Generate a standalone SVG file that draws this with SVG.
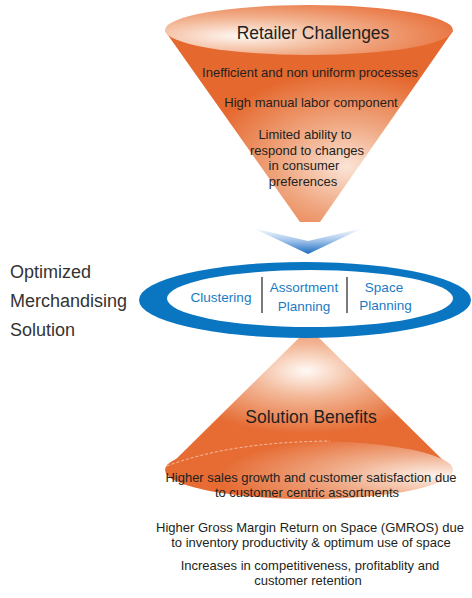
<svg xmlns="http://www.w3.org/2000/svg" width="472" height="598" viewBox="0 0 472 598">
  <defs>
    <radialGradient id="topBody" cx="0.63" cy="0.71" r="0.5" fx="0.63" fy="0.71">
      <stop offset="0" stop-color="#fbe4d6"/>
      <stop offset="0.45" stop-color="#f0a882"/>
      <stop offset="1" stop-color="#e5692f"/>
    </radialGradient>
    <radialGradient id="topRim" cx="0.26" cy="0.62" r="0.8" fx="0.26" fy="0.62">
      <stop offset="0" stop-color="#fef6f1"/>
      <stop offset="0.45" stop-color="#f2b391"/>
      <stop offset="1" stop-color="#e8703a"/>
    </radialGradient>
    <radialGradient id="botBody" cx="0.49" cy="0.26" r="0.55" fx="0.49" fy="0.26">
      <stop offset="0" stop-color="#fffaf6"/>
      <stop offset="0.35" stop-color="#f3b898"/>
      <stop offset="0.85" stop-color="#e66c34"/>
    </radialGradient>
    <radialGradient id="botRim" cx="0.95" cy="0.6" r="0.9" fx="0.95" fy="0.6">
      <stop offset="0" stop-color="#fdf2ea"/>
      <stop offset="0.4" stop-color="#f0ad8b"/>
      <stop offset="0.85" stop-color="#e66c34"/>
    </radialGradient>
    <linearGradient id="chevron" x1="0" y1="228" x2="0" y2="254" gradientUnits="userSpaceOnUse">
      <stop offset="0" stop-color="#ffffff"/>
      <stop offset="0.45" stop-color="#a9c8ec"/>
      <stop offset="1" stop-color="#1b6dc1"/>
    </linearGradient>
    <style>
      .dark { font-family: "Liberation Sans", Arial, sans-serif; fill: #231f20; text-anchor: middle; }
      .title { font-size: 17.5px; }
      .body { font-size: 13px; }
      .side { font-family: "Liberation Sans", Arial, sans-serif; fill: #333333; font-size: 18px; }
      .step { font-family: "Liberation Sans", Arial, sans-serif; fill: #1a7bc4; font-size: 13.5px; text-anchor: middle; }
      .divider { stroke: #231f20; stroke-width: 1.2; }
    </style>
  </defs>

  <!-- upper funnel: challenges -->
  <g id="retailer-challenges">
    <path d="M165,31 L300,222 L320,222 L453,31 Z" fill="url(#topBody)"/>
    <ellipse cx="309" cy="30" rx="144" ry="25" fill="url(#topRim)"/>
    <text class="dark title" x="313" y="39">Retailer Challenges</text>
    <text class="dark body" x="310" y="77">Inefficient and non uniform processes</text>
    <text class="dark body" x="311" y="107">High manual labor component</text>
    <text class="dark body" x="305" y="139">Limited ability to</text>
    <text class="dark body" x="307" y="154.5">respond to changes</text>
    <text class="dark body" x="304" y="170">in consumer</text>
    <text class="dark body" x="303" y="185.5">preferences</text>
  </g>

  <!-- lower funnel: benefits (drawn before the ring so the ring overlaps its tip) -->
  <g id="solution-benefits">
    <path d="M301,336 L317,336 L453,470 L165,470 Z" fill="url(#botBody)"/>
    <ellipse cx="309" cy="470" rx="144" ry="29" fill="url(#botRim)"/>
    <path d="M167,466 Q230,442 330,441" fill="none" stroke="#ffffff" stroke-opacity="0.7" stroke-width="0.8" stroke-dasharray="3 2"/>
    <text class="dark title" x="311" y="423">Solution Benefits</text>
    <text class="dark body" x="311" y="482">Higher sales growth and customer satisfaction due</text>
    <text class="dark body" x="307" y="497">to customer centric assortments</text>
  </g>

  <g id="connectors">
    <polygon points="253,228 308,241 363,228 308,254" fill="url(#chevron)"/>
  </g>

  <!-- solution ring -->
  <g id="merchandising-solution">
    <ellipse cx="305" cy="300" rx="166" ry="38" fill="#0a76c2"/>
    <ellipse cx="310" cy="298.5" rx="143" ry="28.5" fill="#ffffff"/>
    <line class="divider" x1="262" y1="277" x2="262" y2="313"/>
    <line class="divider" x1="347" y1="277" x2="347" y2="313"/>
    <text class="step" x="221" y="302">Clustering</text>
    <text class="step" x="304" y="292">Assortment</text>
    <text class="step" x="304" y="311">Planning</text>
    <text class="step" x="384" y="292">Space</text>
    <text class="step" x="385.5" y="310">Planning</text>
  </g>

  <g id="solution-label">
    <text class="side" x="10" y="278">Optimized</text>
    <text class="side" x="10" y="307">Merchandising</text>
    <text class="side" x="10" y="336">Solution</text>
  </g>

  <g id="benefit-notes">
    <text class="dark body" x="310" y="532">Higher Gross Margin Return on Space (GMROS) due</text>
    <text class="dark body" x="311" y="547">to inventory productivity &amp; optimum use of space</text>
    <text class="dark body" x="310" y="570">Increases in competitiveness, profitablity and</text>
    <text class="dark body" x="308" y="585">customer retention</text>
  </g>
</svg>
